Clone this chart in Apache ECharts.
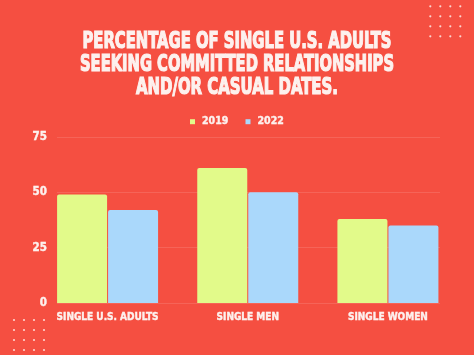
<!DOCTYPE html>
<html>
<head>
<meta charset="utf-8">
<script src="https://cdn.jsdelivr.net/npm/echarts@6/dist/echarts.min.js"></script>
<style>
html,body{margin:0;padding:0;background:#f5503f;}
#chart{width:474px;height:355px;}
</style>
</head>
<body>
<div id="chart"></div>
<script>
// ---- data ----
const categories = ['SINGLE U.S. ADULTS', 'SINGLE MEN', 'SINGLE WOMEN'];
const seriesNames = ['2019', '2022'];
const values2019 = [49, 61, 38];
const values2022 = [42, 50, 35];
const yTicks = [0, 25, 50, 75];
const titleLines = ['PERCENTAGE OF SINGLE U.S. ADULTS', 'SEEKING COMMITTED RELATIONSHIPS', 'AND/OR CASUAL DATES.'];

// ---- styling ----
const FONT = "'DejaVu Sans Condensed', 'DejaVu Sans', sans-serif";
const BG = '#f54f41';
const C2019 = '#e2fa8a';
const C2022 = '#aad8fb';
const TXT = '#fdf1ee';

const ctx = document.createElement('canvas').getContext('2d');
function scaleFor(text, size, target) {
  ctx.font = 'bold ' + size + 'px ' + FONT;
  return target / ctx.measureText(text).width;
}

const titleTargets = [309, 314, 202];
const titleY = [42, 65.2, 88.4];
const graphics = [];
titleLines.forEach((t, i) => {
  const sx = scaleFor(t, 23, titleTargets[i]);
  graphics.push({
    type: 'text', x: 237, y: titleY[i], scaleX: sx, scaleY: 1,
    style: { text: t, fill: TXT, font: 'bold 23px ' + FONT, textAlign: 'center', textVerticalAlign: 'middle',
      stroke: TXT, lineWidth: 1.2 },
    silent: true
  });
});
function dots(x0, y0) {
  for (let r = 0; r < 4; r++) for (let c = 0; c < 4; c++) {
    graphics.push({ type: 'circle', shape: { cx: x0 + c * 10, cy: y0 + r * 10, r: 1.1 },
      style: { fill: 'rgba(255,235,230,0.85)' }, silent: true });
  }
}
dots(430.3, 6.3);
dots(14, 320);

const labelBold = { textBorderColor: TXT, textBorderWidth: 0.4 };

const chart = echarts.init(document.getElementById('chart'));
chart.setOption({
  backgroundColor: BG,
  animation: false,
  textStyle: { fontFamily: FONT },
  legend: {
    data: seriesNames,
    top: 111, left: 'center',
    icon: 'rect', itemWidth: 5, itemHeight: 5, itemGap: 17,
    textStyle: Object.assign({ color: TXT, fontFamily: FONT, fontWeight: 'bold', fontSize: 10.5, padding: [0, 0, 0, 2] }, labelBold)
  },
  grid: [
    { left: 57, right: 34, top: 137, bottom: 52 },
    { left: 37.5, right: 16, top: 137, bottom: 52 }
  ],
  xAxis: [
    { type: 'category', gridIndex: 0, data: categories, show: false },
    { type: 'category', gridIndex: 1, data: categories,
      axisLine: { show: false }, axisTick: { show: false },
      axisLabel: Object.assign({ color: TXT, fontFamily: FONT, fontWeight: 'bold', fontSize: 10, margin: 9 }, labelBold) }
  ],
  yAxis: [
    { type: 'value', gridIndex: 0, min: yTicks[0], max: yTicks[yTicks.length - 1], interval: 25,
      axisLine: { show: false }, axisTick: { show: false },
      axisLabel: Object.assign({ color: TXT, fontFamily: FONT, fontWeight: 'bold', fontSize: 11.5, margin: 10 }, labelBold),
      splitLine: { lineStyle: { color: 'rgba(255,255,255,0.12)', width: 1 } } },
    { type: 'value', gridIndex: 1, min: yTicks[0], max: yTicks[yTicks.length - 1], interval: 25, show: false,
      splitLine: { show: false } }
  ],
  series: [
    { name: seriesNames[0], type: 'bar', xAxisIndex: 1, yAxisIndex: 1, data: values2019,
      barWidth: 50, barGap: '2%',
      itemStyle: { color: C2019, borderRadius: [2, 2, 0, 0] } },
    { name: seriesNames[1], type: 'bar', xAxisIndex: 1, yAxisIndex: 1, data: values2022,
      barWidth: 50, barGap: '2%',
      itemStyle: { color: C2022, borderRadius: [2, 2, 0, 0] } }
  ],
  graphic: graphics
});
</script>
</body>
</html>
